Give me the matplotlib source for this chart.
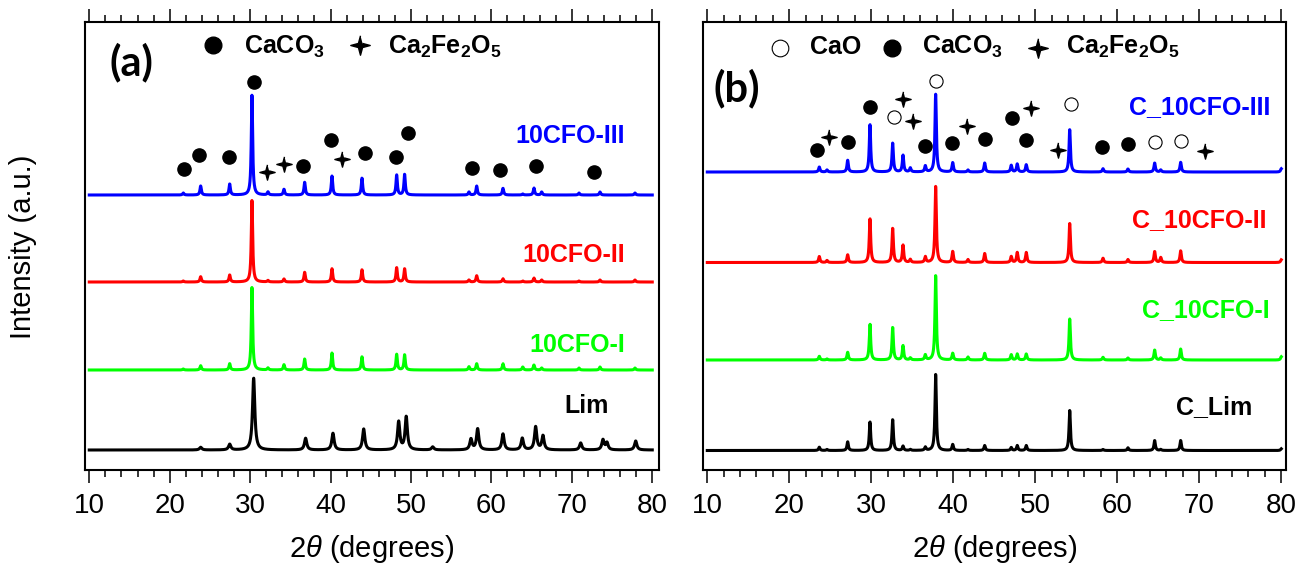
import numpy as np
import matplotlib
matplotlib.use('Agg')
import matplotlib.pyplot as plt
from matplotlib.path import Path

plt.rcParams['font.family'] = ['Liberation Sans', 'DejaVu Sans']
plt.rcParams['mathtext.fontset'] = 'custom'
plt.rcParams['mathtext.default'] = 'regular'
plt.rcParams['mathtext.it'] = 'Liberation Sans:italic'
plt.rcParams['mathtext.rm'] = 'Liberation Sans'

### (a) as-prepared samples: peak positions (2theta) and heights (a.u.)
a_lim_pos = [23.85, 27.46, 30.44, 36.9, 40.3, 44.12, 48.47, 49.41, 52.7, 57.46, 58.29,
             61.44, 63.84, 65.5, 66.41, 71.1, 73.87, 74.37, 77.94]
a_lim_hgt = [2.7, 5.7, 72, 11.7, 16.7, 21, 28, 33, 3, 10.7, 21, 16, 11.7, 23, 14, 7, 10, 7, 9]

a_pos = [21.69, 23.85, 27.46, 30.23, 32.22, 34.21, 36.78, 40.18, 43.91, 48.22, 49.21,
         57.21, 58.17, 61.44, 63.9, 65.29, 66.25, 70.89, 73.5, 77.85]
a_i_hgt = [1, 4.3, 6.3, 82.7, 2, 5.3, 11, 17, 13.3, 15.7, 15.3, 3.3, 6.3, 6.3, 3, 5, 2, 2, 3, 2]
a_ii_hgt = [1, 5.3, 7, 81.7, 1.5, 3, 9.7, 13.3, 12.3, 14.3, 13.3, 2, 6.3, 3.3, 1, 4, 2, 1, 2, 2]
a_iii_hgt = [2, 9, 11, 100, 3, 5.7, 12.7, 19, 17, 20, 20.7, 3, 9, 6.7, 1, 7, 3, 2, 3, 2]

a_names = ['Lim', '10CFO-I', '10CFO-II', '10CFO-III']

### (b) calcined samples
b_pos = [23.66, 24.6, 27.12, 29.84, 32.61, 33.87, 34.76, 36.59, 37.85, 39.93, 41.79, 43.83,
         47.07, 47.8, 48.9, 54.2, 58.26, 61.3, 64.56, 65.3, 67.73, 80.0]
b_lim_hgt = [3.3, 1, 8.7, 28.7, 31, 4.3, 1, 3.3, 76, 6, 1, 5, 3, 5, 5, 40, 1, 2.7, 10, 1, 10, 1.7]
b_i_hgt = [3.7, 1, 7.7, 36, 32.7, 14.3, 2, 5, 84.3, 6.7, 3, 6.7, 5.3, 6, 6, 41, 2.7, 2, 10, 2, 11, 3.3]
b_ii_hgt = [6, 2, 7.7, 44, 34.3, 17.3, 3, 5.7, 76, 11, 3, 9, 6, 10, 10, 39, 4.3, 3, 11, 5, 11.7, 2.7]
b_iii_hgt = [5, 2, 11.7, 47.7, 29, 16.7, 4, 6, 77.7, 9.3, 2, 9, 6.7, 8, 7.3, 42.3, 3.3, 3, 9, 2, 9.7, 3.3]

b_names = ['C_Lim', 'C_10CFO-I', 'C_10CFO-II', 'C_10CFO-III']

# phase markers (2theta, height)
a_caco3_x = [21.74, 23.6, 27.33, 30.51, 36.61, 40.05, 44.28, 48.1, 49.66, 57.54, 61.06, 65.54, 72.75]
a_caco3_y = [300.7, 314.7, 312.7, 388.3, 304.3, 330, 317.3, 312.7, 336.7, 302.3, 300, 304, 297.7]
a_cfo_x = [32.06, 34.21, 41.42]
a_cfo_y = [297.7, 306, 310.7]

b_cao_x = [32.77, 37.85, 54.32, 64.56, 67.73]
b_cao_y = [352.7, 389, 365.7, 328.3, 329]
b_caco3_x = [23.41, 27.12, 29.84, 36.51, 39.88, 43.83, 47.16, 48.9, 58.14, 61.3]
b_caco3_y = [320, 328, 362.7, 324, 327.3, 331, 351.7, 330, 323.3, 326]
b_cfo_x = [24.8, 33.9, 35.12, 41.71, 49.51, 52.77, 70.73]
b_cfo_y = [332.7, 371, 349, 344, 361.7, 320, 319]

colors = ['black', '#00ff00', '#ff0000', '#0000ff']
a_offsets = [20, 100, 188, 275]
b_offsets = [19.5, 110, 207.5, 298]


def pattern(pos, hgt, w):
    x = np.linspace(10, 80, 2801)
    y = np.zeros_like(x)
    for p, h in zip(pos, hgt):
        y += h / (1 + ((x - p) / w) ** 2)
    return x, y


# four pointed star marker
r_in = 0.3
ang = np.deg2rad(np.arange(90, 450, 45))
rad = np.array([1, r_in] * 4)
star = Path(np.column_stack([rad * np.cos(ang), rad * np.sin(ang)]))

fig = plt.figure(figsize=(13.16, 5.65), dpi=100)
ax1 = fig.add_axes([85 / 1316, 95 / 565, 573.7 / 1316, 448.3 / 565])
ax2 = fig.add_axes([702.7 / 1316, 95 / 565, 583 / 1316, 448.3 / 565])

for ax in (ax1, ax2):
    ax.set_ylim(0, 448.3)
    ax.set_yticks([])
    ax.set_xticks(np.arange(10, 81, 10))
    ax.set_xticks(np.arange(10, 81, 2), minor=True)
    ax.tick_params(which='both', direction='out', top=True, width=1.1, labelsize=20, pad=7)
    ax.tick_params(which='major', length=9.5)
    ax.tick_params(which='minor', length=5)
    for s in ax.spines.values():
        s.set_linewidth(1.5)
    ax.set_xlabel(r'$\mathit{2\theta}$ (degrees)', fontsize=21, labelpad=10)

ax1.set_xlim(9.47, 80.8)
ax2.set_xlim(9.44, 80.54)

# panel (a)
a_hgts = [a_lim_hgt, a_i_hgt, a_ii_hgt, a_iii_hgt]
a_lab_x = [74.65, 76.6, 76.6, 76.6]
a_lab_y = [56.7, 118.3, 208.3, 326.7]
for i in range(4):
    if i == 0:
        x, y = pattern(a_lim_pos, a_lim_hgt, 0.17)
    else:
        x, y = pattern(a_pos, a_hgts[i], 0.1)
    ax1.plot(x, y + a_offsets[i], color=colors[i], lw=2.2)
    ax1.text(a_lab_x[i], a_lab_y[i], a_names[i], color=colors[i], fontsize=18,
             fontweight='bold', ha='right', va='baseline')

ax1.plot(a_caco3_x, a_caco3_y, 'o', color='black', ms=9.5, ls='none')
ax1.plot(a_cfo_x, a_cfo_y, marker=star, color='black', ms=11, ls='none')

ax1.text(15.19, 395, '(a)', fontsize=30, fontweight='bold', family='Lato', ha='center', va='baseline')
ax1.plot([25.38], [425], 'o', color='black', ms=12)
ax1.text(29.2, 416, 'CaCO$_3$', fontsize=18, fontweight='bold', va='baseline')
ax1.plot([43.63], [425], marker=star, color='black', ms=14)
ax1.text(47.14, 416, 'Ca$_2$Fe$_2$O$_5$', fontsize=18, fontweight='bold', va='baseline')

# panel (b)
b_hgts = [b_lim_hgt, b_i_hgt, b_ii_hgt, b_iii_hgt]
b_lab_x = [76.5, 78.6, 78.2, 78.7]
b_lab_y = [55.7, 152.7, 243.3, 355.7]
for i in range(4):
    x, y = pattern(b_pos, b_hgts[i], 0.1)
    ax2.plot(x, y + b_offsets[i], color=colors[i], lw=2.2)
    ax2.text(b_lab_x[i], b_lab_y[i], b_names[i], color=colors[i], fontsize=18,
             fontweight='bold', ha='right', va='baseline')

ax2.plot(b_cao_x, b_cao_y, 'o', mfc='white', mec='black', mew=0.8, ms=9.5, ls='none')
ax2.plot(b_caco3_x, b_caco3_y, 'o', color='black', ms=9.5, ls='none')
ax2.plot(b_cfo_x, b_cfo_y, marker=star, color='black', ms=11, ls='none')

ax2.text(13.54, 368.3, '(b)', fontsize=30, fontweight='bold', family='Lato', ha='center', va='baseline')
ax2.plot([18.87], [421.7], 'o', mfc='white', mec='black', mew=0.8, ms=12)
ax2.text(22.52, 416, 'CaO', fontsize=18, fontweight='bold', va='baseline')
ax2.plot([32.52], [421.7], 'o', color='black', ms=12)
ax2.text(36.18, 416, 'CaCO$_3$', fontsize=18, fontweight='bold', va='baseline')
ax2.plot([50.33], [421.7], marker=star, color='black', ms=14)
ax2.text(53.74, 416, 'Ca$_2$Fe$_2$O$_5$', fontsize=18, fontweight='bold', va='baseline')

fig.text(23 / 1316, 1 - 247 / 565, 'Intensity (a.u.)', rotation=90, fontsize=21,
         ha='center', va='center')

plt.savefig('out.png', dpi=100)
